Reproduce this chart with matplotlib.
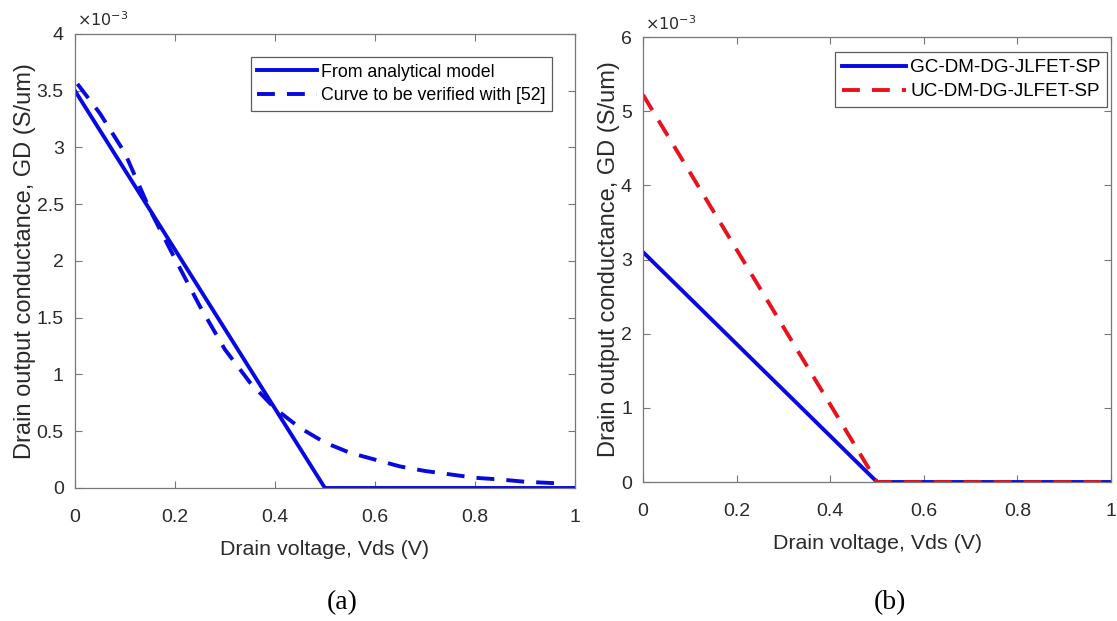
import matplotlib.pyplot as plt
from matplotlib.ticker import FuncFormatter

plt.rcParams['font.family'] = ['Liberation Sans', 'DejaVu Sans']

# (a) analytical model vs. reference curve, GD in S/um
vds_a = [0.0, 0.5, 1.0]
gd_model = [3.5e-3, 0.0, 0.0]

vds_ref = [0.005, 0.05, 0.1, 0.15, 0.2, 0.25, 0.3, 0.35, 0.4, 0.45, 0.5,
           0.55, 0.6, 0.65, 0.7, 0.75, 0.8, 0.85, 0.9, 0.97]
gd_ref = [3.56e-3, 3.3e-3, 2.95e-3, 2.45e-3, 2.02e-3, 1.6e-3, 1.22e-3,
          0.93e-3, 0.7e-3, 0.53e-3, 0.4e-3, 0.31e-3, 0.25e-3, 0.19e-3,
          0.15e-3, 0.12e-3, 0.09e-3, 0.075e-3, 0.055e-3, 0.04e-3]

# (b) graded vs. uniform channel
vds_b = [0.0, 0.5, 1.0]
gd_gc = [3.1e-3, 0.0, 0.0]
gd_uc = [5.22e-3, 0.0, 0.0]

blue = '#0808e0'
red = '#e8121c'
tick_col = '#2a2a2a'
spine_col = '#777777'
dash = (0, (4.6, 3.1))

fig = plt.figure(figsize=(11.17, 6.21), dpi=100)
ax1 = fig.add_axes([0.0671, 0.2142, 0.4476, 0.7311])
ax2 = fig.add_axes([0.5757, 0.2238, 0.4190, 0.7166])


def style(ax, ymax, ystep):
    ax.set_xlim(0, 1)
    ax.set_ylim(0, ymax)
    ax.set_xticks([0, 0.2, 0.4, 0.6, 0.8, 1])
    ax.set_xticklabels(['0', '0.2', '0.4', '0.6', '0.8', '1'])
    n = int(round(ymax / ystep))
    ax.set_yticks([i * ystep for i in range(n + 1)])
    ax.yaxis.set_major_formatter(FuncFormatter(lambda v, p: f'{v * 1e3:g}'))
    ax.tick_params(direction='in', top=True, right=True, length=5,
                   width=0.8, colors=spine_col, labelcolor=tick_col,
                   labelsize=14)
    ax.tick_params(axis='x', pad=15)
    ax.tick_params(axis='y', pad=8)
    for s in ax.spines.values():
        s.set_color(spine_col)
        s.set_linewidth(0.9)
    ax.set_xlabel('Drain voltage, Vds (V)', fontsize=15.4, color=tick_col,
                  labelpad=10)
    ax.set_ylabel('Drain output conductance, GD (S/um)', fontsize=17,
                  color=tick_col, labelpad=0.5)
    ax.text(0.005, 1.01, r'$\times10^{-3}$', transform=ax.transAxes,
            fontsize=11.5, color=tick_col, ha='left', va='bottom')


def legend(ax, anchor, size):
    leg = ax.legend(loc='upper right', bbox_to_anchor=anchor,
                    borderaxespad=0, fancybox=False, fontsize=size,
                    handlelength=3.4, handletextpad=0.2, labelspacing=0.37,
                    borderpad=0.36)
    leg.get_frame().set_edgecolor('#333333')
    leg.get_frame().set_linewidth(0.9)


ax1.plot(vds_a, gd_model, color=blue, lw=2.8, label='From analytical model')
ax1.plot(vds_ref, gd_ref, color=blue, lw=2.8, ls=dash,
         label='Curve to be verified with [52]')
style(ax1, 4e-3, 0.5e-3)
legend(ax1, (0.954, 0.949), 12.8)

ax2.plot(vds_b, gd_gc, color=blue, lw=2.8, label='GC-DM-DG-JLFET-SP')
ax2.plot(vds_b, gd_uc, color=red, lw=2.8, ls=dash,
         label='UC-DM-DG-JLFET-SP')
style(ax2, 6e-3, 1e-3)
legend(ax2, (0.992, 0.966), 13.6)

fig.text(342 / 1117, 1 - 603 / 621, '(a)', family='Liberation Serif',
         fontsize=20, ha='center', va='center')
fig.text(890 / 1117, 1 - 603 / 621, '(b)', family='Liberation Serif',
         fontsize=20, ha='center', va='center')

fig.savefig('out.png', dpi=100)
